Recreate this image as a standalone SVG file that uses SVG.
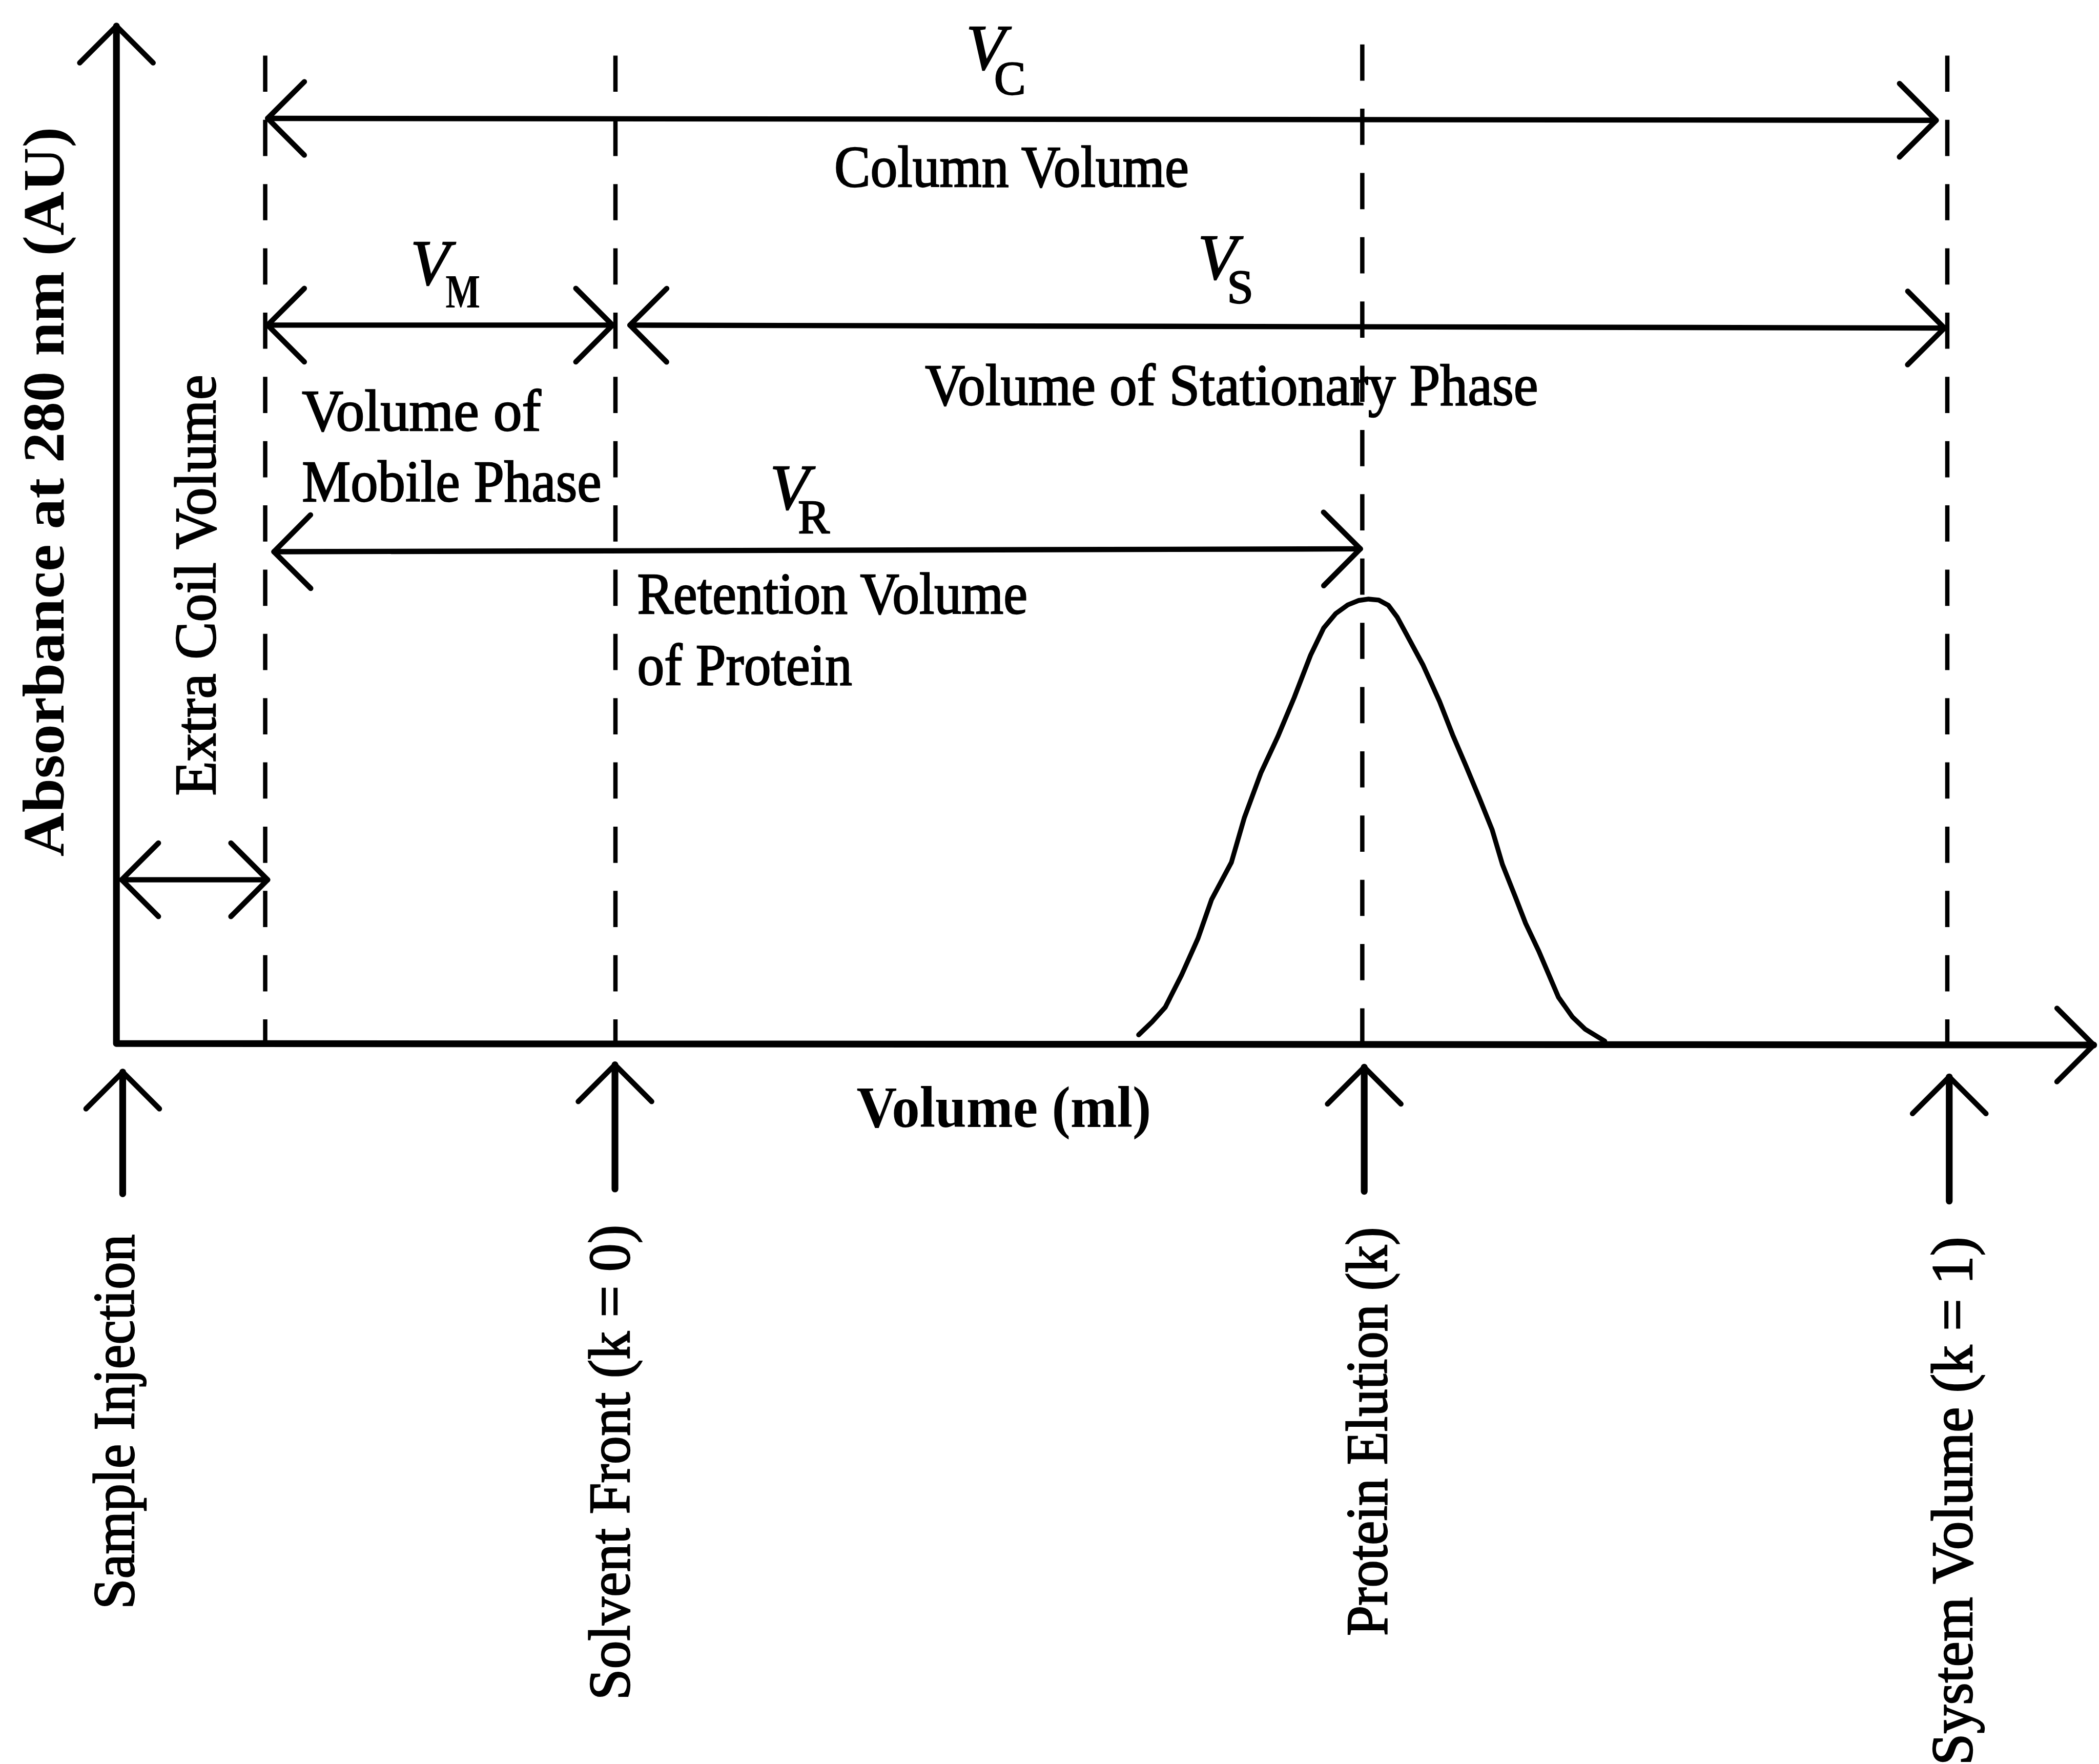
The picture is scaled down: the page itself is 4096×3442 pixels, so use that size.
<svg xmlns="http://www.w3.org/2000/svg" width="4096" height="3442" viewBox="0 0 4096 3442">
<style>
.ln{fill:none;stroke:#000;stroke-linecap:round;stroke-linejoin:round}
.axis{stroke-width:14}
.dim{stroke-width:11}
.dash{stroke-width:9;stroke-dasharray:75 58;stroke-linecap:butt}
.curve{stroke-width:10}
.t{font-family:"Liberation Serif","Times New Roman",serif;font-size:122px;fill:#000;stroke:#000;stroke-width:2.5}
.b{font-weight:bold;stroke-width:0}
.vi{font-style:italic;font-size:132px}
.sub{font-size:98px}
</style>
<defs>
<marker id="ah" markerUnits="userSpaceOnUse" markerWidth="200" markerHeight="200" refX="0" refY="0" orient="auto-start-reverse" overflow="visible">
<path d="M-76,-76 L0,0 L-76,76" fill="none" stroke="#000" stroke-width="11" stroke-linecap="round" stroke-linejoin="round"/>
</marker>
</defs>
<rect width="4096" height="3442" fill="#fff"/>
<g transform="scale(0.94269)">
<g id="connectors">
<g id="dashed-lines">
<line class="ln dash" x1="549" y1="115" x2="549" y2="2160"/>
<line class="ln dash" x1="1274" y1="115" x2="1274" y2="2160"/>
<line class="ln dash" x1="2820" y1="92" x2="2820" y2="2160"/>
<line class="ln dash" x1="4031" y1="115" x2="4031" y2="2162"/>
</g>
<path id="axes" class="ln axis" d="M241,54 L241,2160 L4334,2163" marker-start="url(#ah)" marker-end="url(#ah)"/>
<line id="vc-arrow" class="ln dim" x1="554" y1="245" x2="4008" y2="249" marker-start="url(#ah)" marker-end="url(#ah)"/>
<line id="vm-arrow" class="ln dim" x1="554" y1="673" x2="1268" y2="673" marker-start="url(#ah)" marker-end="url(#ah)"/>
<line id="vs-arrow" class="ln dim" x1="1304" y1="673" x2="4025" y2="679" marker-start="url(#ah)" marker-end="url(#ah)"/>
<line id="vr-arrow" class="ln dim" x1="567" y1="1142" x2="2816" y2="1136" marker-start="url(#ah)" marker-end="url(#ah)"/>
<line id="extra-arrow" class="ln dim" x1="252" y1="1821" x2="554" y2="1821" marker-start="url(#ah)" marker-end="url(#ah)"/>
<line class="ln axis" x1="254" y1="2471" x2="254" y2="2219" marker-end="url(#ah)"/>
<line class="ln axis" x1="1273" y1="2461" x2="1273" y2="2204" marker-end="url(#ah)"/>
<line class="ln axis" x1="2824" y1="2466" x2="2824" y2="2209" marker-end="url(#ah)"/>
<line class="ln axis" x1="4035" y1="2486" x2="4035" y2="2229" marker-end="url(#ah)"/>
</g>
<g id="peak">
<polyline class="ln curve" points="2357,2142 2385,2115 2412,2085 2446,2018 2480,1942 2508,1862 2549,1785 2576,1692 2610,1600 2645,1525 2679,1444 2713,1356 2740,1300 2765,1270 2790,1252 2812,1243 2833,1240 2854,1242 2874,1253 2892,1277 2911,1312 2946,1377 2980,1452 3007,1521 3034,1584 3062,1651 3089,1718 3110,1789 3137,1857 3158,1911 3185,1968 3226,2064 3255,2105 3281,2130 3322,2155"/>
</g>
<g id="y-label"><text class="t b" font-size="126" transform="translate(132,1773) rotate(-90)" textLength="1510" lengthAdjust="spacingAndGlyphs">Absorbance at 280 nm (AU)</text></g>
<g id="extra-coil"><text class="t" transform="translate(446,1647) rotate(-90)" textLength="871" lengthAdjust="spacingAndGlyphs">Extra Coil Volume</text></g>
<g id="vc-label">
<text class="t vi" x="2000" y="143">V</text><text class="t sub" x="2058" y="195">C</text>
<text class="t" x="1727" y="386" textLength="734" lengthAdjust="spacingAndGlyphs">Column Volume</text>
</g>
<g id="vm-label">
<text class="t vi" x="850" y="589">V</text><text class="t sub b" x="922" y="637" textLength="72" lengthAdjust="spacingAndGlyphs">M</text>
<text class="t" x="625" y="891" textLength="495" lengthAdjust="spacingAndGlyphs">Volume of</text>
<text class="t" x="625" y="1037" textLength="620" lengthAdjust="spacingAndGlyphs">Mobile Phase</text>
</g>
<g id="vs-label">
<text class="t vi" x="2480" y="577">V</text><text class="t sub" x="2540" y="627">S</text>
<text class="t" x="1915" y="838" textLength="1269" lengthAdjust="spacingAndGlyphs">Volume of Stationary Phase</text>
</g>
<g id="vr-label">
<text class="t vi" x="1594" y="1053">V</text><text class="t sub" x="1652" y="1103">R</text>
<text class="t" x="1319" y="1270" textLength="808" lengthAdjust="spacingAndGlyphs">Retention Volume</text>
<text class="t" x="1319" y="1417" textLength="445" lengthAdjust="spacingAndGlyphs">of Protein</text>
</g>
<g id="x-label"><text class="t b" font-size="114" x="1773" y="2333" textLength="610" lengthAdjust="spacingAndGlyphs">Volume (ml)</text></g>
<g id="sample-injection"><text class="t" transform="translate(277,3331) rotate(-90)" textLength="776" lengthAdjust="spacingAndGlyphs">Sample Injection</text></g>
<g id="solvent-front"><text class="t" transform="translate(1303,3519) rotate(-90)" textLength="984" lengthAdjust="spacingAndGlyphs">Solvent Front (k = 0)</text></g>
<g id="protein-elution"><text class="t" transform="translate(2870,3386) rotate(-90)" textLength="846" lengthAdjust="spacingAndGlyphs">Protein Elution (k)</text></g>
<g id="system-volume"><text class="t" transform="translate(4082,3654) rotate(-90)" textLength="1094" lengthAdjust="spacingAndGlyphs">System Volume (k = 1)</text></g>
</g>
</svg>
